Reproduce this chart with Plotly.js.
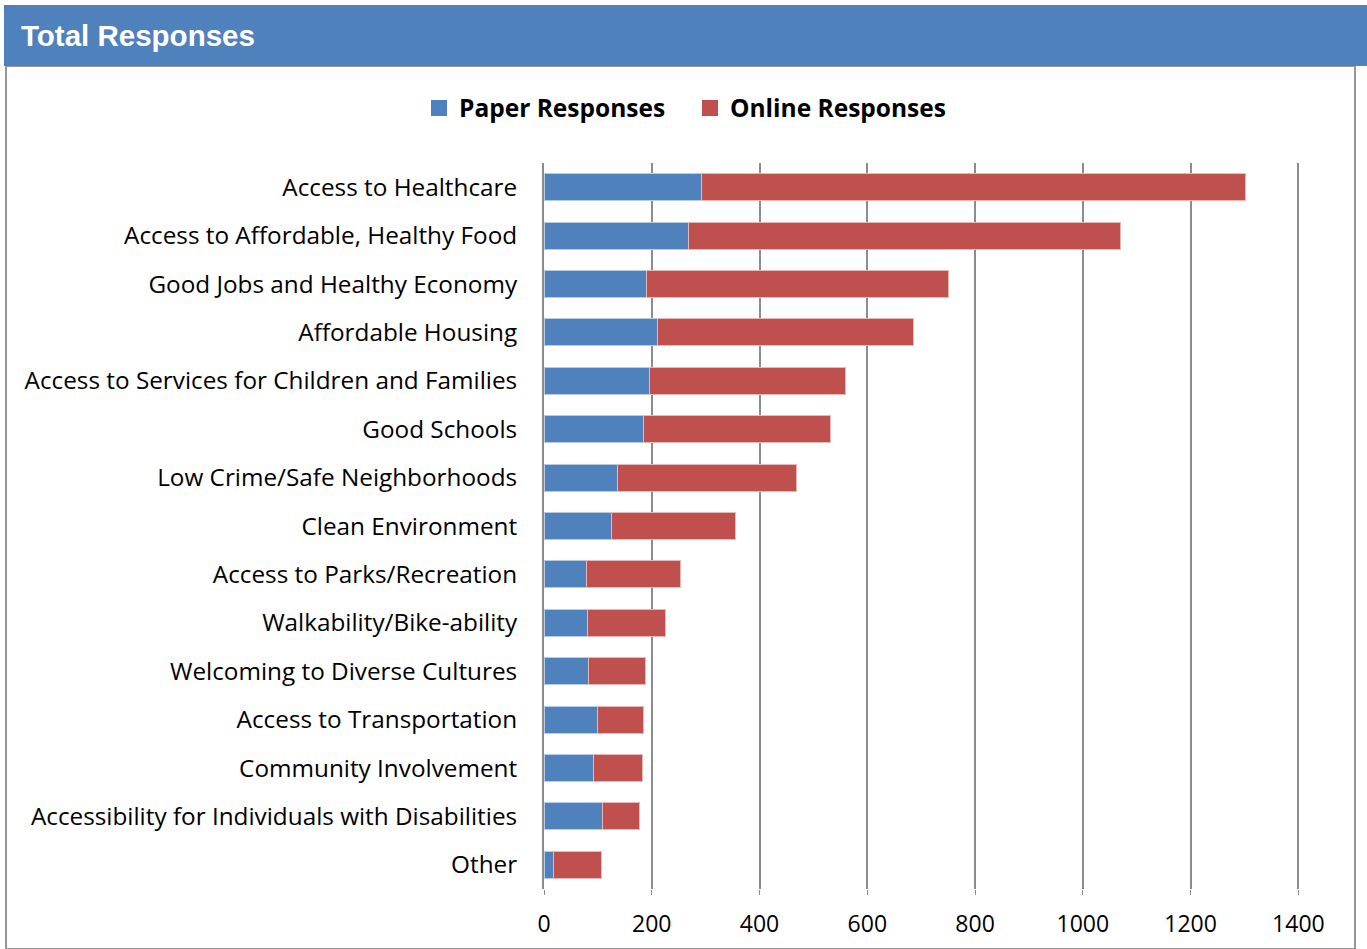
<!DOCTYPE html>
<html>
<head>
<meta charset="utf-8">
<script src="https://cdn.plot.ly/plotly-3.0.1.min.js"></script>
<style>
html,body{margin:0;padding:0;background:#fff;}
#chart{width:1367px;height:949px;}
</style>
</head>
<body>
<div id="chart"></div>
<script>
const categories = [
  "Access to Healthcare",
  "Access to Affordable, Healthy Food",
  "Good Jobs and Healthy Economy",
  "Affordable Housing",
  "Access to Services for Children and Families",
  "Good Schools",
  "Low Crime/Safe Neighborhoods",
  "Clean Environment",
  "Access to Parks/Recreation",
  "Walkability/Bike-ability",
  "Welcoming to Diverse Cultures",
  "Access to Transportation",
  "Community Involvement",
  "Accessibility for Individuals with Disabilities",
  "Other"
];
const paperResponses  = [293, 269, 191, 210, 195, 184, 137, 126, 78, 80, 82, 100, 91, 108, 17];
const onlineResponses = [1008, 800, 559, 475, 364, 347, 331, 230, 176, 145, 106, 84, 91, 70, 89];
const xTicks = [0, 200, 400, 600, 800, 1000, 1200, 1400];

const W = 1367, H = 949;
const M = {l: 544, r: 67, t: 163, b: 60};
const PW = W - M.l - M.r, PH = H - M.t - M.b;
const px = v => (v - M.l) / PW;
const py = v => (H - M.b - v) / PH;

const blue = "#4F81BD", red = "#C0504D";
const catFont = "'Open Sans', sans-serif";

const traces = [
  {type: "bar", orientation: "h", name: "Paper Responses", y: categories, x: paperResponses,
   showlegend: false, marker: {color: blue, line: {color: "#B8CCE4", width: 1}}},
  {type: "bar", orientation: "h", name: "Online Responses", y: categories, x: onlineResponses,
   showlegend: false, marker: {color: red, line: {color: "#E6B9B8", width: 1}}},
  {type: "scatter", mode: "markers", name: "Paper Responses", x: [null], y: [null],
   marker: {symbol: "square", size: 16, color: blue}, hoverinfo: "skip"},
  {type: "scatter", mode: "markers", name: "Online Responses", x: [null], y: [null],
   marker: {symbol: "square", size: 16, color: red}, hoverinfo: "skip"}
];

const layout = {
  width: W, height: H,
  margin: M,
  barmode: "stack",
  bargap: 0.44,
  paper_bgcolor: "#fff",
  plot_bgcolor: "#fff",
  showlegend: true,
  legend: {orientation: "h", x: px(419), xanchor: "left", y: py(108), yanchor: "middle",
           font: {family: catFont, size: 24.5, color: "#000", weight: "bold"},
           itemwidth: 30, traceorder: "normal", tracegroupgap: 0,
           entrywidth: 226, entrywidthmode: "pixels"},
  xaxis: {range: [0, 1403], tickvals: xTicks, ticktext: xTicks.map(String),
          showgrid: true, gridcolor: "#8C8C8C", gridwidth: 2,
          zeroline: false, showline: false,
          ticks: "outside", ticklen: 5, tickcolor: "#8C8C8C", tickwidth: 1,
          tickfont: {family: catFont, size: 23, color: "#000"}, ticklabelstandoff: 9,
          fixedrange: true},
  yaxis: {autorange: "reversed", type: "category",
          tickfont: {family: catFont, size: 24.3, color: "#000"},
          ticks: "", ticklabelstandoff: 20, showline: true, linecolor: "#8C8C8C", linewidth: 2,
          showgrid: false, fixedrange: true},
  shapes: [
    {type: "rect", xref: "paper", yref: "paper", x0: px(6), x1: px(1355), y0: py(949), y1: py(66),
     line: {color: "#969696", width: 2}, fillcolor: "rgba(0,0,0,0)", layer: "below"},
    {type: "rect", xref: "paper", yref: "paper", x0: px(4), x1: px(1367), y0: py(66), y1: py(5),
     line: {width: 0}, fillcolor: blue, layer: "above"}
  ],
  annotations: [
    {xref: "paper", yref: "paper", x: px(19), y: py(36), xanchor: "left", yanchor: "middle",
     text: "<b>Total Responses</b>", showarrow: false,
     font: {family: "Liberation Sans, Arial, sans-serif", size: 29.5, color: "#fff"}}
  ]
};

Plotly.newPlot("chart", traces, layout, {displayModeBar: false, staticPlot: true});
</script>
</body>
</html>
